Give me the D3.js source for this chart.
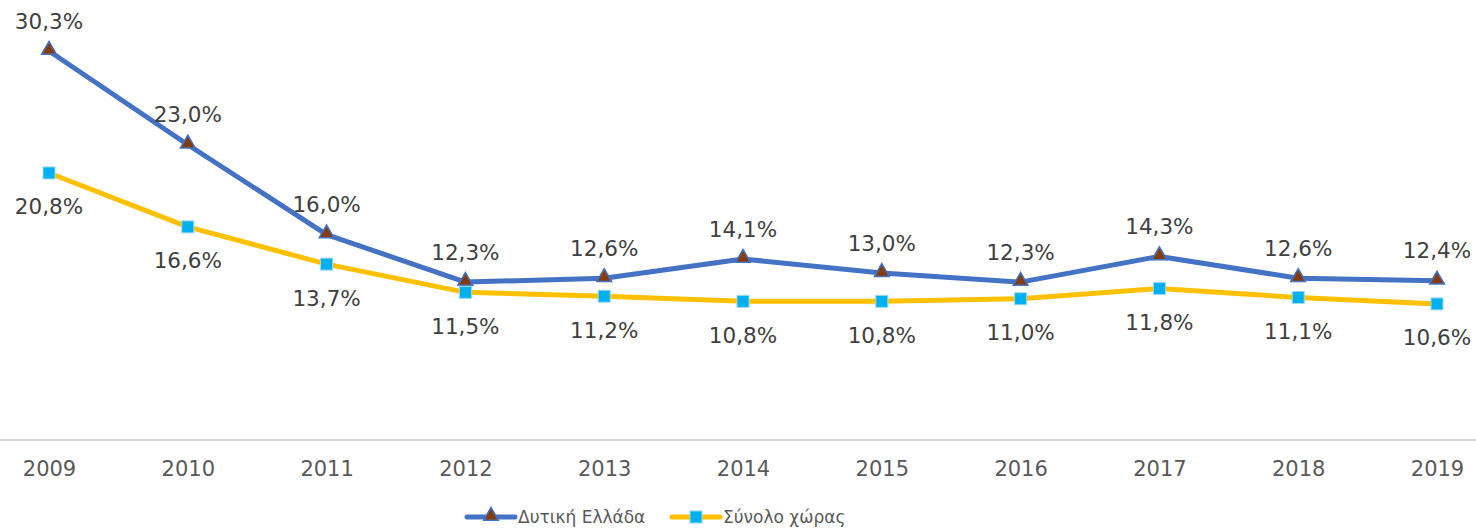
<!DOCTYPE html>
<html>
<head>
<meta charset="utf-8">
<script src="https://cdn.jsdelivr.net/npm/d3@7"></script>
<style>
  body { margin: 0; background: #fff; }
  svg { display: block; font-family: "DejaVu Sans", Verdana, sans-serif; }
</style>
</head>
<body>
<div id="chart"></div>
<script>
const years = ["2009", "2010", "2011", "2012", "2013", "2014", "2015", "2016", "2017", "2018", "2019"];
const westernGreece = [30.3, 23.0, 16.0, 12.3, 12.6, 14.1, 13.0, 12.3, 14.3, 12.6, 12.4];
const wholeCountry = [20.8, 16.6, 13.7, 11.5, 11.2, 10.8, 10.8, 11.0, 11.8, 11.1, 10.6];
const seriesNames = ["Δυτική Ελλάδα", "Σύνολο χώρας"];

const width = 1476, height = 530;
const fmt = v => v.toFixed(1).replace(".", ",") + "%";

const svg = d3.select("#chart").append("svg")
  .attr("width", width)
  .attr("height", height);

const x = d3.scalePoint().domain(years).range([49, 1437]);
const y = d3.scaleLinear().domain([0, 30.3]).range([440, 51]);

// baseline axis
svg.append("line")
  .attr("x1", 0).attr("x2", width)
  .attr("y1", y(0)).attr("y2", y(0))
  .attr("stroke", "#d9d9d9").attr("stroke-width", 2);

const xAxis = svg.append("g")
  .attr("transform", `translate(0,${y(0)})`)
  .call(d3.axisBottom(x).tickSize(0).tickPadding(21));
xAxis.select(".domain").remove();
xAxis.selectAll("text")
  .attr("font-size", 21)
  .attr("fill", "#595959")
  .attr("font-family", "DejaVu Sans");

const line = d3.line().x((d, i) => x(years[i])).y(d => y(d));

const series = [
  { name: seriesNames[0], values: westernGreece, color: "#4472C4", marker: "triangle", labelDy: -30 },
  { name: seriesNames[1], values: wholeCountry, color: "#FFC000", marker: "square", labelDy: 34 }
];

function drawMarker(g, type, cx, cy) {
  if (type === "triangle") {
    g.append("path")
      .attr("d", d3.symbol().type(d3.symbolTriangle).size(95)())
      .attr("transform", `translate(${cx},${cy - 1})`)
      .attr("fill", "#843C0C")
      .attr("stroke", "#4472C4").attr("stroke-width", 1.5);
  } else {
    g.append("rect")
      .attr("x", cx - 6).attr("y", cy - 6)
      .attr("width", 12).attr("height", 12)
      .attr("fill", "#00B0F0")
      .attr("stroke", "#9dd8f2").attr("stroke-width", 1);
  }
}

// draw yellow first, then blue on top
series.slice().reverse().forEach(s => {
  svg.append("path")
    .datum(s.values)
    .attr("d", line)
    .attr("fill", "none")
    .attr("stroke", s.color)
    .attr("stroke-width", 5)
    .attr("stroke-linejoin", "round");
});

series.forEach(s => {
  const g = svg.append("g");
  s.values.forEach((v, i) => drawMarker(g, s.marker, x(years[i]), y(v)));
  g.selectAll("text")
    .data(s.values)
    .join("text")
    .attr("x", (d, i) => x(years[i]))
    .attr("y", d => y(d) + s.labelDy)
    .attr("dy", "0.35em")
    .attr("text-anchor", "middle")
    .attr("font-size", 21.5)
    .attr("fill", "#404040")
    .text(fmt);
});

// legend
const legend = svg.append("g").attr("transform", "translate(0,517)");
const legendX = [467, 672];
series.forEach((s, i) => {
  const lx = legendX[i];
  legend.append("line")
    .attr("x1", lx).attr("x2", lx + 48)
    .attr("y1", 0).attr("y2", 0)
    .attr("stroke", s.color).attr("stroke-width", 5)
    .attr("stroke-linecap", "round");
  drawMarker(legend, s.marker, lx + 24, 0);
  legend.append("text")
    .attr("x", lx + 51)
    .attr("y", 0)
    .attr("dy", "0.35em")
    .attr("font-size", 17)
    .attr("fill", "#595959")
    .text(s.name);
});
</script>
</body>
</html>
